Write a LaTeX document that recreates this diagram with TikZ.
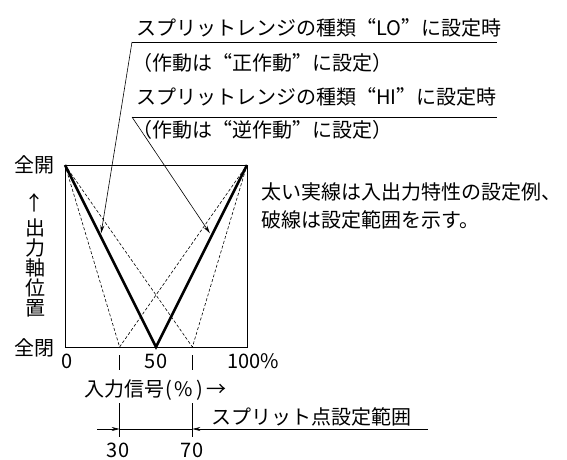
\documentclass[tikz,border=0pt]{standalone}
\usepackage{fontspec}
\newfontfamily\jp{Noto Sans CJK JP}
\newfontfamily\jpfw[CharacterWidth=Full]{Noto Sans CJK JP}
\newcommand{\myLq}{{\jpfw “}}
\newcommand{\myRq}{{\jpfw ”}}
\usetikzlibrary{arrows.meta,calc}
\begin{document}
\begin{tikzpicture}[x=1pt,y=-1pt,
  lbl/.style={inner sep=0pt,font=\jp\fontsize{20}{21}\selectfont},
  frame/.style={line width=0.8pt},
  thick line/.style={line width=2.6pt,line join=miter},
  dash line/.style={line width=0.6pt,dash pattern=on 3pt off 2pt},
  thin/.style={line width=0.6pt},
  pointer/.style={line width=0.6pt,-{Stealth[length=8pt,width=4pt]}}]
\useasboundingbox (0,0) rectangle (567,459);
% frame
\coordinate (TL) at (65,165);
\coordinate (TR) at (247,165);
\coordinate (BL) at (65,347);
\coordinate (BR) at (247,347);
\coordinate (B30) at (119.6,347);
\coordinate (B50) at (156,347);
\coordinate (B70) at (192.4,347);
\draw[frame] (TL) rectangle (BR);
% dashed ranges
\draw[dash line] (TL) -- (B30) -- (TR);
\draw[dash line] (TL) -- (B70) -- (TR);
% thick example
\draw[thick line] (TL) -- (B50) -- (TR);
% labels at top
\node[lbl,anchor=west] (lo) at (136,28) {スプリットレンジの種類\myLq LO\myRq に設定時};
\node[lbl,anchor=west] (lo2) at (132,63) {（作動は\myLq 正作動\myRq に設定）};
\node[lbl,anchor=west] (hi) at (136,97) {スプリットレンジの種類\myLq HI\myRq に設定時};
\node[lbl,anchor=west] (hi2) at (132,130) {（作動は\myLq 逆作動\myRq に設定）};
\coordinate (loS) at (132,42);
\coordinate (loE) at (497,42);
\coordinate (hiS) at (132,117);
\coordinate (hiE) at (497,117);
\draw[thin] (loS) -- (loE);
\draw[thin] (hiS) -- (hiE);
\coordinate (aL) at ($(TL)!0.375!(B50)$);
\coordinate (aR) at ($(TR)!0.375!(B50)$);
\draw[pointer] (loS) -- ($(aL)+(2,0)$);
\draw[pointer] (hiS) -- ($(aR)+(-3,0)$);
% y labels
\node[lbl] (open) at (34,165) {全開};
\node[lbl] (closed) at (34,348) {全閉};
\node[lbl] (yarr) at (34,203) {↑};
\node[lbl] (y1) at (35,228) {出};
\node[lbl] (y2) at (35,248) {力};
\node[lbl] (y3) at (35,268) {軸};
\node[lbl] (y4) at (35,288) {位};
\node[lbl] (y5) at (35,308) {置};
% x labels
\node[lbl] (x0) at (67,361) {0};
\node[lbl] (x50) at (156,361) {50};
\node[lbl] (x100) at (253,361) {100\%};
\coordinate (t30a) at (119.6,355);
\coordinate (t30b) at (119.6,370);
\coordinate (t70a) at (192.4,355);
\coordinate (t70b) at (192.4,370);
\draw[thin] (t30a) -- (t30b);
\draw[thin] (t70a) -- (t70b);
\node[lbl,anchor=west] (xin) at (84,390) {入力信号\kern1pt(\kern3pt\%\kern3pt)\kern3pt→};
% split point range
\node[lbl,anchor=west] (split) at (211,417) {スプリット点設定範囲};
\coordinate (d30a) at (119.6,403);
\coordinate (d30b) at (119.6,437);
\coordinate (d70a) at (192.4,403);
\coordinate (d70b) at (192.4,437);
\draw[thin] (d30a) -- (d30b);
\draw[thin] (d70a) -- (d70b);
\coordinate (hl) at (97,429);
\coordinate (h30) at (119.6,429);
\coordinate (h70) at (192.4,429);
\coordinate (hr) at (428,429);
\draw[pointer] (hl) -- (h30);
\draw[thin] (h30) -- (h70);
\draw[pointer] (hr) -- (h70);
\node[lbl] (n30) at (118,450) {30};
\node[lbl] (n70) at (192,450) {70};
% note
\node[lbl,anchor=west] (note1) at (261,192) {太い実線は入出力特性の設定例、};
\node[lbl,anchor=west] (note2) at (261,220) {破線は設定範囲を示す。};
\end{tikzpicture}
\end{document}
